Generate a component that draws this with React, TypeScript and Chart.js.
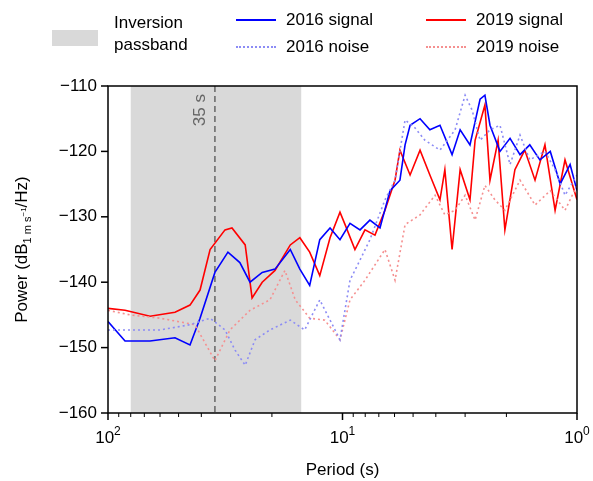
import React, { useEffect, useRef } from "react";
import { Chart, registerables } from "chart.js";
Chart.register(...registerables);

const sig2016P = [100,84.6,66.2,51.8,44.7,40.5,35,30.8,27.4,24.8,22.0,19.4,16.7,15.2,13.8,12.5,11.3,10.25,9.29,8.42,7.64,6.92,6.27,5.69,5.41,5.15,4.67,4.24,3.84,3.41,3.15,2.86,2.59,2.47,2.35,2.13,1.93,1.75,1.59,1.44,1.30,1.18,1.07,1];
const sig2016 = [-146,-149,-149,-148.5,-149.6,-145.5,-138.5,-135.4,-137,-140,-138.5,-138,-135,-138,-140.5,-133.5,-131.7,-133.5,-131,-132,-130.5,-131.7,-126,-124.4,-119,-116,-115,-116.7,-116,-120.5,-116.7,-119,-112,-111.4,-116,-120,-118,-120.5,-119,-121.3,-120,-125,-122,-126];
const sig2019P = [100,84.6,66.2,51.8,44.7,40.5,36.7,31.7,29.6,26.0,24.3,22.0,19.4,16.7,15.2,13.8,12.5,11.3,10.25,9.75,8.85,8.02,7.27,6.59,5.97,5.69,5.15,4.67,4.24,3.84,3.66,3.41,3.15,2.86,2.72,2.47,2.35,2.17,2.03,1.84,1.67,1.51,1.37,1.24,1.125,1];
const sig2019 = [-144,-144.3,-145.2,-144.6,-143.5,-141.2,-135,-132,-131.7,-134.3,-142.4,-140,-138.2,-134.3,-133.2,-135.4,-139,-133.2,-129.3,-131.2,-135,-132,-132.8,-129,-124.4,-119.8,-123.6,-119.8,-123.6,-127.4,-122.8,-135,-122.8,-127.4,-118.3,-112.9,-124.4,-118.3,-132,-122.8,-119.8,-124.4,-119,-129,-121.3,-127.4];
const noise2016P = [100,80.6,60,44.7,36.7,31.7,28.7,26.0,23.6,20.4,16.7,14.5,12.5,11.3,10.25,9.29,8.42,7.64,6.59,5.97,5.41,4.91,4.45,3.84,3.31,3.0,2.80,2.59,2.35,2.13,1.93,1.75,1.59,1.37,1.24,1.125,1];
const noise2016 = [-147.3,-147.3,-147.3,-146.5,-145.5,-147.3,-150.4,-152.7,-148.8,-147.3,-145.8,-147.3,-142.7,-145.8,-148.8,-139.7,-136.6,-133.5,-127.4,-124.4,-115.2,-116.4,-118.3,-119.8,-116.7,-111.4,-113.7,-118.3,-116.7,-116,-122,-117.5,-121.3,-120,-122.8,-126.7,-123.6];
const noise2019P = [100,80.6,60,42.6,35,30.2,24.8,20.4,17.6,15.9,13.8,11.9,10.25,9.29,8.02,6.59,5.97,5.41,4.67,4.03,3.66,3.31,3.0,2.72,2.47,2.24,2.03,1.75,1.51,1.30,1.125,1];
const noise2019 = [-144.3,-145,-145.5,-146.5,-152,-147.3,-144.3,-142.7,-138.2,-142.7,-145.5,-145.8,-148.8,-142.7,-139.7,-135,-139.7,-131.2,-129.7,-126.7,-129.7,-129,-126.7,-130.5,-125.2,-127.4,-129,-124.4,-128.2,-126,-129,-125.2];
const yTicks = [-160, -150, -140, -130, -120, -110];
const xMajor = [100, 10, 1];
const passband = [80, 15];
const markPeriod = 35;

const pts = (p: number[], v: number[]) => p.map((x, i) => ({ x, y: v[i] }));
const FONT = "'Liberation Sans', Arial, sans-serif";

export default function App() {
  const ref = useRef<HTMLCanvasElement>(null);
  useEffect(() => {
    document.body.style.margin = "0";
    const deco = {
      id: "deco",
      beforeDatasetsDraw(c: any) {
        const { ctx, chartArea: a, scales } = c;
        const x = scales.x, y = scales.y;
        ctx.save();
        ctx.fillStyle = "#d9d9d9";
        const x1 = x.getPixelForValue(passband[0]), x2 = x.getPixelForValue(passband[1]);
        ctx.fillRect(x1, a.top, x2 - x1, a.bottom - a.top);
        const xm = x.getPixelForValue(markPeriod);
        ctx.strokeStyle = "#666"; ctx.lineWidth = 1.5; ctx.setLineDash([6, 4]);
        ctx.beginPath(); ctx.moveTo(xm, a.top); ctx.lineTo(xm, a.bottom); ctx.stroke();
        ctx.setLineDash([]);
        ctx.translate(xm - 6, a.top + 8); ctx.rotate(-Math.PI / 2);
        ctx.fillStyle = "#666"; ctx.font = `17px ${FONT}`; ctx.textAlign = "right"; ctx.textBaseline = "bottom";
        ctx.fillText("35 s", 0, 0);
        ctx.restore();
      },
      afterDraw(c: any) {
        const { ctx, chartArea: a, scales } = c;
        const x = scales.x, y = scales.y;
        ctx.save();
        ctx.strokeStyle = "#000"; ctx.lineWidth = 1.5;
        ctx.strokeRect(a.left, a.top, a.right - a.left, a.bottom - a.top);
        ctx.fillStyle = "#000"; ctx.font = `17px ${FONT}`;
        // y ticks
        ctx.textAlign = "right"; ctx.textBaseline = "middle";
        yTicks.forEach((t) => {
          const py = y.getPixelForValue(t);
          ctx.beginPath(); ctx.moveTo(a.left, py); ctx.lineTo(a.left - 7, py); ctx.stroke();
          ctx.fillText("\u2212" + Math.abs(t), a.left - 11, py);
        });
        // x ticks
        for (let d = 0; d < 2; d++) for (let m = 1; m <= 9; m++) {
          const v = m * Math.pow(10, d);
          const px = x.getPixelForValue(v);
          ctx.lineWidth = m === 1 ? 1.5 : 1;
          ctx.beginPath(); ctx.moveTo(px, a.bottom); ctx.lineTo(px, a.bottom + (m === 1 ? 7 : 4)); ctx.stroke();
        }
        ctx.lineWidth = 1.5;
        const pxl = x.getPixelForValue(100);
        ctx.beginPath(); ctx.moveTo(pxl, a.bottom); ctx.lineTo(pxl, a.bottom + 7); ctx.stroke();
        xMajor.forEach((v) => {
          const px = x.getPixelForValue(v);
          const e = String(Math.round(Math.log10(v)));
          ctx.font = `17px ${FONT}`; const w1 = ctx.measureText("10").width;
          ctx.font = `12px ${FONT}`; const w2 = ctx.measureText(e).width;
          const sx = px - (w1 + w2) / 2;
          ctx.textAlign = "left"; ctx.textBaseline = "alphabetic";
          ctx.font = `17px ${FONT}`; ctx.fillText("10", sx, a.bottom + 30);
          ctx.font = `12px ${FONT}`; ctx.fillText(e, sx + w1, a.bottom + 22);
        });
        ctx.font = `17px ${FONT}`; ctx.textAlign = "center";
        ctx.fillText("Period (s)", (a.left + a.right) / 2, 475);
        // y title
        ctx.translate(27, (a.top + a.bottom) / 2); ctx.rotate(-Math.PI / 2);
        const parts: [string, number, number][] = [["Power (dB", 17, 0], ["1 m s", 11, 4], ["\u22121", 8, -1], ["/Hz)", 17, 0]];
        let tw = 0;
        parts.forEach(([s, f]) => { ctx.font = `${f}px ${FONT}`; tw += ctx.measureText(s).width; });
        let cx = -tw / 2; ctx.textAlign = "left";
        parts.forEach(([s, f, dy]) => { ctx.font = `${f}px ${FONT}`; ctx.fillText(s, cx, dy); cx += ctx.measureText(s).width; });
        ctx.restore();
      },
    };
    const ds = (label: string, data: any, color: string, dash: number[] = []) => ({
      label, data, borderColor: color, borderWidth: 1.6, borderDash: dash, pointRadius: 0, fill: false, tension: 0,
    });
    const chart = new Chart(ref.current!, {
      type: "line",
      data: {
        datasets: [
          ds("2016 noise", pts(noise2016P, noise2016), "#8c8cf5", [2, 3]),
          ds("2019 noise", pts(noise2019P, noise2019), "#f59090", [2, 3]),
          ds("2016 signal", pts(sig2016P, sig2016), "#0000ff"),
          ds("2019 signal", pts(sig2019P, sig2019), "#ff0000"),
        ],
      },
      options: {
        animation: false, responsive: false,
        layout: { padding: { left: 108, top: 86, right: 16, bottom: 68 } },
        plugins: { legend: { display: false }, tooltip: { enabled: false } },
        scales: {
          x: { type: "logarithmic", min: 1, max: 100, reverse: true, display: false },
          y: { min: -160, max: -110, display: false },
        },
      },
      plugins: [deco],
    } as any);
    return () => chart.destroy();
  }, []);

  const txt: React.CSSProperties = { position: "absolute", font: `17px ${FONT}`, color: "#000", lineHeight: "22px" };
  const line = (left: number, top: number, color: string, dotted: boolean): React.CSSProperties => ({
    position: "absolute", left, top, width: 40, height: 0, borderTop: `2px ${dotted ? "dotted" : "solid"} ${color}`,
  });
  return (
    <div style={{ position: "relative", width: 593, height: 481 }}>
      <canvas ref={ref} width={593} height={481} />
      <div style={{ position: "absolute", left: 52, top: 30, width: 46, height: 16, background: "#d9d9d9" }} />
      <div style={{ ...txt, left: 114, top: 12 }}>Inversion<br />passband</div>
      <div style={line(236, 19, "#0000ff", false)} />
      <div style={{ ...txt, left: 286, top: 9 }}>2016 signal</div>
      <div style={line(236, 46, "#8c8cf5", true)} />
      <div style={{ ...txt, left: 286, top: 36 }}>2016 noise</div>
      <div style={line(426, 19, "#ff0000", false)} />
      <div style={{ ...txt, left: 476, top: 9 }}>2019 signal</div>
      <div style={line(426, 46, "#f59090", true)} />
      <div style={{ ...txt, left: 476, top: 36 }}>2019 noise</div>
    </div>
  );
}
